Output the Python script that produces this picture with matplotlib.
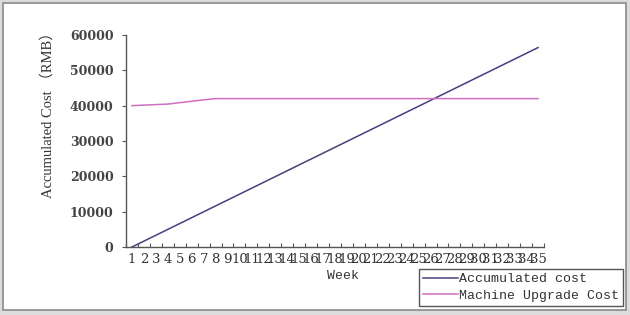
import matplotlib.pyplot as plt
from matplotlib.patches import Rectangle

weeks = list(range(1, 36))
accumulated_cost = [0, 1660, 3320, 4980, 6640, 8300, 9960, 11620, 13280, 14940,
                    16600, 18260, 19920, 21580, 23240, 24900, 26560, 28220, 29880, 31540,
                    33200, 34860, 36520, 38180, 39840, 41500, 43160, 44820, 46480, 48140,
                    49800, 51460, 53120, 54780, 56440]
upgrade_cost = [40000, 40150, 40300, 40450, 40850, 41250, 41650, 42000, 42000, 42000,
                42000, 42000, 42000, 42000, 42000, 42000, 42000, 42000, 42000, 42000,
                42000, 42000, 42000, 42000, 42000, 42000, 42000, 42000, 42000, 42000,
                42000, 42000, 42000, 42000, 42000]
y_ticks = [0, 10000, 20000, 30000, 40000, 50000, 60000]

fig = plt.figure(figsize=(6.3, 3.15), dpi=100, facecolor='#dcdcdc')
fig.patches.append(Rectangle((3 / 630, 1 - 310 / 315), 623 / 630, 307 / 315,
                             transform=fig.transFigure, facecolor='white',
                             edgecolor='#8a8a8a', linewidth=1.2, zorder=-5))

ax = fig.add_axes([126 / 630, 1 - 247 / 315, 418 / 630, 212 / 315])
ax.set_facecolor('none')

ax.plot(weeks, accumulated_cost, color='#4b3c80', lw=1.1, label='Accumulated cost')
ax.plot(weeks, upgrade_cost, color='#d06ec0', lw=1.1, label='Machine Upgrade Cost')

ax.set_xlim(0.5, 35.5)
ax.set_ylim(0, 60000)
ax.set_yticks(y_ticks)
ax.set_yticklabels([str(v) for v in y_ticks], family='DejaVu Serif', fontsize=9,
                   color='#444444', fontweight='bold')
ax.tick_params(axis='y', direction='out', length=3, width=0.8, color='#555555', pad=6)

ax.set_xticks(weeks)
ax.set_xticklabels([str(w) for w in weeks], family='DejaVu Serif', fontsize=9.5,
                   color='#333333')
ax.tick_params(axis='x', which='major', length=0, pad=4)
ax.set_xticks([w + 0.5 for w in [0] + weeks], minor=True)
ax.tick_params(axis='x', which='minor', direction='in', length=3, width=0.8,
               color='#555555')

for side in ['top', 'right']:
    ax.spines[side].set_visible(False)
for side in ['left', 'bottom']:
    ax.spines[side].set_color('#555555')
    ax.spines[side].set_linewidth(1.0)

fig.text(343 / 630, 1 - 276 / 315, 'Week', ha='center', va='center',
         family='Liberation Mono', fontsize=9.5, color='#333333')
fig.text(48 / 630, 1 - 112 / 315, 'Accumulated Cost （RMB）', rotation=90,
         ha='center', va='center', family=['Liberation Serif', 'Noto Sans CJK SC'],
         fontsize=10.5, color='#333333')

leg = fig.legend(loc='lower right', bbox_to_anchor=(623 / 630, 1 - 306 / 315),
                 fancybox=False, framealpha=1, edgecolor='#555555',
                 prop={'family': 'Liberation Mono', 'size': 9.5},
                 handlelength=2.6, handletextpad=0.1, borderpad=0.3,
                 labelspacing=0.35, borderaxespad=0)
leg.get_frame().set_linewidth(1.0)
for t in leg.get_texts():
    t.set_color('#333333')

fig.savefig('out.png', dpi=100, facecolor=fig.get_facecolor())
